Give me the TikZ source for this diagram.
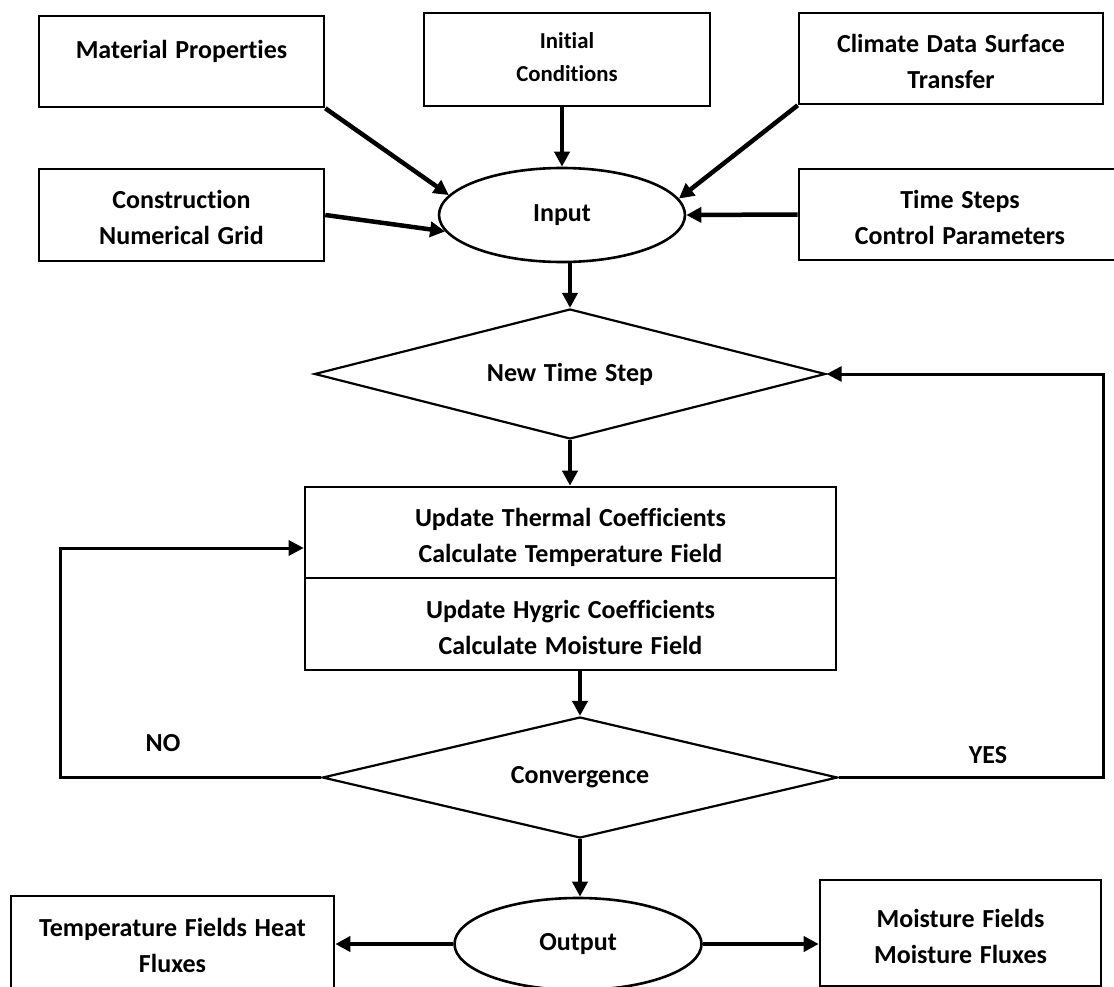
\documentclass[tikz,border=0pt]{standalone}
\usepackage{fontspec}
\setmainfont[Ligatures=NoCommon,WordSpace=1.3]{Carlito}
\usetikzlibrary{shapes.geometric}
\usetikzlibrary{arrows.meta}
\usetikzlibrary{calc}

\begin{document}
\begin{tikzpicture}[x=1pt,y=-1pt,line width=2.6pt,font=\fontsize{26}{36}\selectfont\bfseries]

\tikzset{
block/.style = {draw, rectangle, align=center, inner sep=0pt, text height=66pt, text depth=6pt, minimum width=#1, minimum height=91pt},
block/.default = 285pt,
decision/.style = {draw, diamond, shape aspect=4, inner sep=0pt, line width=2.2pt},
terminal/.style = {draw, ellipse, inner sep=0pt, minimum width=246pt, minimum height=94pt},
arr/.style = {line width=4.5pt, -{Triangle[length=15pt,width=15pt]}},
}

\useasboundingbox (0,0) rectangle (1114,987);

% input blocks
\node (mat) at (181.5,61.5) [block, text height=31pt, text depth=37pt] {Material Properties};
\node (init) at (567,59.5) [block=286pt, minimum height=93pt, text height=51pt, font=\fontsize{22.8}{33}\selectfont\bfseries] {Initial\\Conditions};
\node (clim) at (951,58.5) [block=304pt] {Climate Data Surface\\Transfer};
\node (cons) at (181.5,215) [block, minimum height=92pt] {Construction\\Numerical Grid};
\node (tstep) at (960,214.5) [block=322pt] {Time Steps\\Control Parameters};
\node (inp) at (562,215) [terminal] {Input};

% time loop
\node (nts) at (570,374) [decision, minimum width=511pt, minimum height=130pt] {New Time Step};
\node (proc_t) at (570.5,532.5) [block=531pt] {Update Thermal Coefficients\\Calculate Temperature Field};
\node (proc_m) at (570.5,624) [block=531pt, minimum height=92pt] {Update Hygric Coefficients\\Calculate Moisture Field};
\node (conv) at (580,777.5) [decision, minimum width=515pt, minimum height=121pt] {Convergence};
\node (no) at (163,743) {NO};
\node (yes) at (988,755) {YES};

% output
\node (outp) at (578,944) [terminal, minimum width=247pt, minimum height=92pt] {Output};
\node (temp) at (172.5,942) [block=323pt, minimum height=92pt] {Temperature Fields Heat\\Fluxes};
\node (moist) at (960.5,933) [block=281pt, minimum height=106pt] {Moisture Fields\\Moisture Fluxes};

\draw[arr] (mat.south east) -- (inp.170);
\draw[arr] (cons.east) -- (inp.188);
\draw[arr] (init.south -| inp.north) -- (inp.north);
\draw[arr] (clim.south west) -- (inp.8);
\draw[arr] (tstep.west) -- (inp.east);

\draw[arr] (nts.north |- inp.south) -- (nts.north);
\draw[arr] (nts.south) -- (proc_t.north -| nts.south);
\draw[arr] (conv.north |- proc_m.south) -- (conv.north);
\draw[arr] (conv.south) -- (conv.south |- outp.north);

\draw[arr] (outp.west) -- (outp.west -| temp.east);
\draw[arr] (outp.east) -- (outp.east -| moist.west);

\coordinate (no_in) at ([yshift=-15.5pt]proc_t.west);
\draw[arr, line width=3pt] (conv.west) -- ++(-261,0) |- (no_in);
\draw[arr, line width=3pt] (conv.east) -- ++(265,0) |- (nts.east);

\end{tikzpicture}
\end{document}
